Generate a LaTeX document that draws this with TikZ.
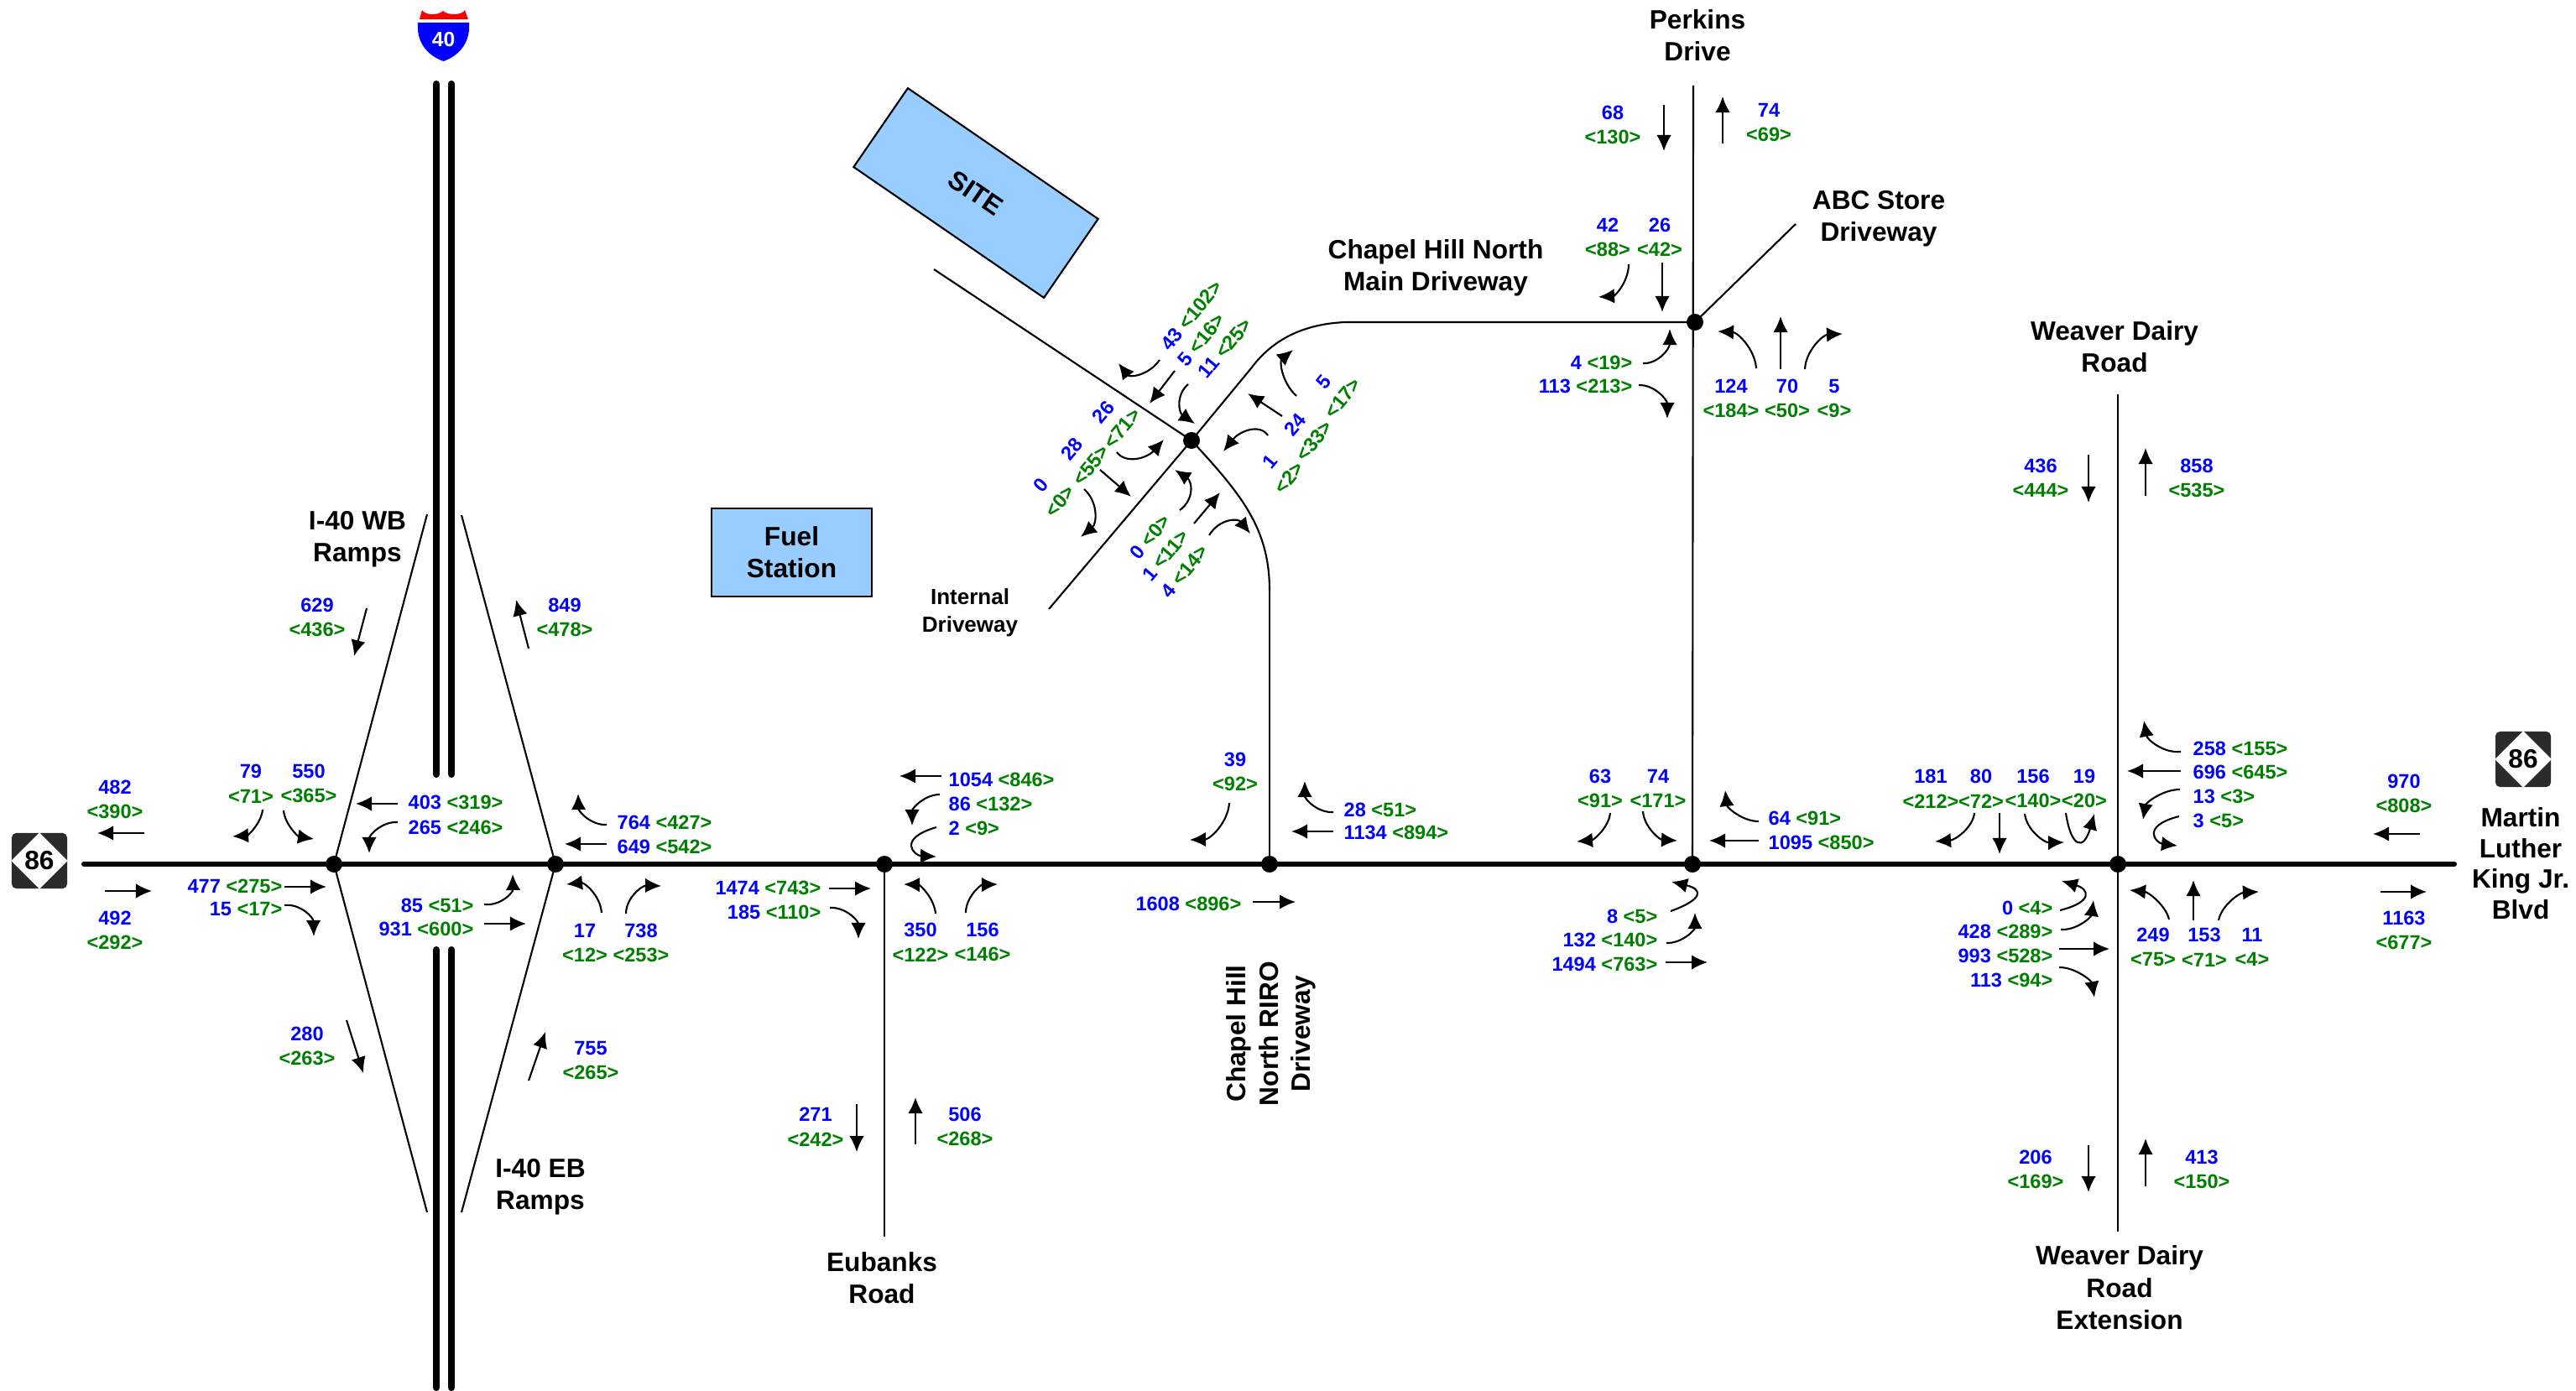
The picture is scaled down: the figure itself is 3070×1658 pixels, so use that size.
\documentclass[tikz,border=0pt]{standalone}
\usepackage{fontspec}
\usepackage{xcolor}
\setmainfont{Liberation Sans}
\usetikzlibrary{arrows.meta,positioning,calc}
\definecolor{volblue}{HTML}{0000FF}
\definecolor{volgreen}{HTML}{008000}
\definecolor{sitefill}{HTML}{99CCFF}
\definecolor{signdark}{HTML}{2B2B2B}
\newcommand{\volline}[2]{\textcolor{volblue}{#1} \textcolor{volgreen}{<#2>}}
\newcommand{\volstack}[2]{\textcolor{volblue}{#1}\\\textcolor{volgreen}{<#2>}}
\begin{document}
\begin{tikzpicture}[x=.01cm,y=-.01cm,
    jct/.style={circle,fill=black,minimum size=.2cm,inner sep=0pt},
    road/.style={line width=.6pt},
    mainroad/.style={line width=1.7pt,line cap=round},
    hwy/.style={line width=2.3pt,line cap=round},
    mv/.style={line width=.6pt,-{Latex[length=1.9mm,width=1.75mm]}},
    vol/.style={font=\fontsize{6.7}{8.4}\selectfont\bfseries,inner sep=0pt,align=center},
    rname/.style={font=\fontsize{9}{10.9}\selectfont\bfseries,inner sep=0pt,align=center},
    signbox/.style={fill=signdark,rounded corners=1.5pt,minimum size=.66cm,inner sep=0pt},
    lot/.style={draw,line width=.6pt,fill=sitefill,inner sep=0pt,align=center,font=\fontsize{9}{10.9}\selectfont\bfseries}]
  \useasboundingbox (0,0) rectangle (3070,1658);
  \fill[white] (0,0) rectangle (3070,1658);

  \foreach \n/\x/\y in {j1/398/1030,j2/662/1030,j3/1054/1030,j4/1513/1030,j5/2017/1030,j6/2524/1030,j7/1420/525,j8/2020/384}
    \node[jct] (\n) at (\x,\y) {};
  \foreach \n/\x/\y in {ma/100/1030,mb/2925/1030,wbl/509/613,wbr/550/614,ebl/509/1445,ebr/550/1445,pk/2018/102,abc/2140/267,wv/2524/470,wx/2524/1468,eu/1054/1474,st/1113/321,ind/1250/726,ri/1513/704,hwa/520/100,hwb/538/100,hwc/520/923,hwd/538/923,hwe/520/1132,hwf/538/1132,hwg/520/1654,hwh/538/1654}
    \coordinate (\n) at (\x,\y);

  \draw[mainroad] (ma)--(mb);
  \foreach \x/\y in {hwa/hwc,hwb/hwd,hwe/hwg,hwf/hwh} \draw[hwy] (\x)--(\y);
  \foreach \x/\y in {j1/wbl,j2/wbr,j1/ebl,j2/ebr,j5/pk,j8/abc,j6/wv,j6/wx,j3/eu,j7/st,j7/ind,j4/ri}
    \draw[road] (\x.center)--(\y);
  \draw[road] (j8.center)--(1603,384) .. controls (1560,386) and (1520,400) .. (1491,439)--(j7.center);
  \draw[road] (ri) .. controls (1513,630) and (1480,590) .. (j7.center);

  \node[lot,rotate=-34.5,minimum width=2.75cm,minimum height=1.14cm] (site) at (1163,230) {SITE};
  \node[lot,minimum width=1.91cm,minimum height=1.05cm] (fuel) at (943.5,658.5) {Fuel\\Station};

  \fill[blue] (498,27)--(559,27) .. controls (561,50) and (548,66) .. (528.5,73) .. controls (509,66) and (496,50) .. (498,27)--cycle;
  \fill[red] (500,23)--(503,12) .. controls (506,18) and (522,19) .. (528,13) .. controls (534,19) and (551,18) .. (554,12)--(558,23)--cycle;
  \node[font=\fontsize{7}{8}\selectfont\bfseries,text=white,inner sep=0pt] (shield) at (528.5,47) {40};

  \foreach \n/\x/\y in {signw/47/1026,signe/3007/905} {
    \node[signbox] (\n) at (\x,\y) {};
    \fill[white] (\n.north)--(\n.east)--(\n.south)--(\n.west)--cycle;
    \node[font=\fontsize{9}{10}\selectfont\bfseries,inner sep=0pt] (\n num) at (\n) {86};
  }

  \foreach \x/\y/\a/\b [count=\i] in {378/736/629/436,673/736/849/478,299/934/79/71,368/934/550/365,137/953/482/390,137/1109/492/292,697/1124/17/12,764/1124/738/253,366/1247/280/263,704/1264/755/265,
      1472/920/39/92,1097/1123/350/122,1171/1123/156/146,972/1343/271/242,1150/1343/506/268,
      1922/149/68/130,2108/146/74/69,1916/283/42/88,1978/283/26/42,2063/475/124/184,2130/475/70/50,2186/475/5/9,1907/940/63/91,1976/940/74/171,
      2301/940/181/212,2361/940/80/72,2423/940/156/140,2484/940/19/20,2865/946/970/808,2865/1109/1163/677,2566/1129/249/75,2627/1129/153/71,2684/1129/11/4,2432/570/436/444,2618/570/858/535,2426/1394/206/169,2624/1394/413/150}
    \node[vol] (st\i) at (\x,\y) {\volstack{\a}{\b}};
  \foreach \x/\y/\a/\b [count=\i] in {486/956/403/319,486/986/265/246,735/980/764/427,735/1009/649/542,1130/929/1054/846,1130/958/86/132,1130/987/2/9,1601/965/28/51,1601/992/1134/894,
      2107/975/64/91,2107/1004/1095/850,2613/892/258/155,2613/920/696/645,2613/949/13/3,2613/978/3/5}
    \node[vol,anchor=west] (lf\i) at (\x,\y) {\volline{\a}{\b}};
  \foreach \x/\y/\a/\b [count=\i] in {337/1056/477/275,337/1083/15/17,565/1079/85/51,565/1107/931/600,979/1058/1474/743,979/1087/185/110,1480/1077/1608/896,
      1946/432/4/19,1946/460/113/213,1976/1092/8/5,1976/1120/132/140,1976/1149/1494/763,2447/1082/0/4,2447/1110/428/289,2447/1139/993/528,2447/1168/113/94}
    \node[vol,anchor=east] (rt\i) at (\x,\y) {\volline{\a}{\b}};
  \foreach \x/\y/\a/\b [count=\i] in {1420/376/43/102,1432/405/5/16,1460/415/11/25,1371/640/0/0,1389/662/1/11,1412/681/4/14}
    \node[vol,rotate=50] (dg\i) at (\x,\y) {\volline{\a}{\b}};
  \foreach \x/\y/\a/\b [count=\i] in {1326/501/26/71,1289/545/28/55,1252/588/0/0,1589/465/5/17,1555/516/24/33,1525/560/1/2}
    \node[vol,rotate=50] (ds\i) at (\x,\y) {\volstack{\a}{\b}};

  \node[rname] (wbname) at (426,643) {I-40 WB\\Ramps};
  \node[rname] (ebname) at (644,1415) {I-40 EB\\Ramps};
  \node[rname] (euname) at (1051,1523) {Eubanks\\Road};
  \node[rname,rotate=90] (riname) at (1515,1232) {Chapel Hill\\North RIRO\\Driveway};
  \node[rname] (mdname) at (1711,319) {Chapel Hill North\\Main Driveway};
  \node[rname] (pkname) at (2023,42) {Perkins\\Drive};
  \node[rname] (abname) at (2239,261) {ABC Store\\Driveway};
  \node[rname] (wvname) at (2520,413) {Weaver Dairy\\Road};
  \node[rname] (wxname) at (2526,1535) {Weaver Dairy\\Road\\Extension};
  \node[rname,font=\fontsize{9}{10.4}\selectfont\bfseries] (mkname) at (3004,1029) {Martin\\Luther\\King Jr.\\Blvd};
  \node[rname,font=\fontsize{7.4}{9.4}\selectfont\bfseries] (idname) at (1156,730) {Internal\\Driveway};

  \foreach \a/\b/\c/\d in {437/725/422/782,630/773/615/715,172/993/116/993,125/1062/181/1062,474/958/424/958,723/1006/673/1006,339/1057/389/1057,577/1101/627/1101,413/1216/433/1279,630/1288/650/1230,
      1122/925/1072/925,988/1059/1038/1059,1589/991/1539/991,1493/1075/1544/1075,1021/1316/1021/1373,1091/1364/1091/1308,
      1400/442/1370/481,1528/496/1487/469,1311/560/1348/592,1423/624/1454/587,
      1983/125/1983/180,2053/171/2053/115,1981/313/1981/372,2122/440/2122/377,
      2096/1002/2037/1002,1985/1147/2035/1147,2383/969/2383/1018,2599/919/2535/919,2884/994/2828/994,2837/1063/2892/1063,2454/1131/2514/1131,2614/1097/2614/1049,
      2489/542/2489/599,2557/591/2557/534,2489/1365/2489/1421,2557/1414/2557/1357}
    \draw[mv] (\a,\b)--(\c,\d);
  \foreach \a/\b/\c/\d/\e/\f in {313/965/310/995/277/997,338/966/340/995/374/1000,474/980/440/978/440/1017,723/983/690/985/689/946,339/1079/373/1075/374/1116,577/1078/612/1082/611/1042,717/1088/714/1050/675/1054,746/1089/746/1055/788/1056,
      1120/947/1087/947/1087/984,989/1082/1023/1080/1023/1119,1115/1089/1112/1055/1077/1054,1151/1088/1151/1055/1189/1054,1465/957/1462/1000/1418/1001,1589/968/1555/970/1555/931,
      1382/429/1357/464/1333/433,1416/458/1389/481/1424/505,1545/472/1512/441/1541/417,1511/519/1494/493/1458/538,1331/539/1350/565/1387/524,1292/583/1323/611/1288/640,1406/608/1438/585/1400/560,1441/638/1463/602/1490/636,
      1941/315/1941/352/1905/354,1958/433/1990/435/1990/392,1953/459/1987/458/1987/499,2093/439/2090/397/2047/395,2151/440/2153/400/2196/398,
      1919/969/1916/1000/1879/1003,1958/967/1960/1000/1999/1002,2096/979/2060/979/2056/942,2353/969/2350/1000/2306/1003,1986/1124/2020/1125/2020/1088,
      2599/896/2562/900/2555/859,2598/941/2560/941/2554/977,2413/970/2417/1005/2460/1004,2456/1108/2490/1110/2495/1073,2454/1153/2490/1153/2496/1189,2585/1096/2578/1065/2538/1061,2644/1097/2650/1065/2692/1063}
    \draw[mv] (\a,\b) .. controls ($(\a,\b)!.55!(\c,\d)$) and ($(\e,\f)!.55!(\c,\d)$) .. (\e,\f);
  \draw[mv] (1116,986) .. controls (1068,1000) and (1090,1020) .. (1116,1021);
  \draw[mv] (1991,1086) .. controls (2030,1072) and (2030,1060) .. (1992,1051);
  \draw[mv] (2597,973) .. controls (2550,985) and (2570,1005) .. (2595,1008);
  \draw[mv] (2462,969) .. controls (2468,1010) and (2483,1015) .. (2496,970);
  \draw[mv] (2455,1085) .. controls (2495,1075) and (2490,1060) .. (2457,1050);
\end{tikzpicture}
\end{document}
